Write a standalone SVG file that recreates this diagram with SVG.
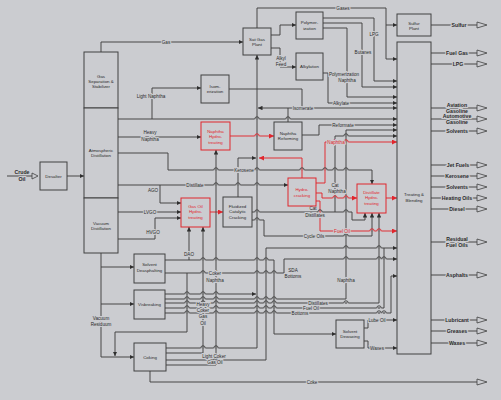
<svg xmlns="http://www.w3.org/2000/svg" width="501" height="400" viewBox="0 0 501 400">
<style>
.bg{fill:#cbccd0}
.box{fill:#cbccd0;stroke:#404040;stroke-width:1}
.rbox{fill:#cbccd0;stroke:#e0262d;stroke-width:1}
.ln{fill:none;stroke:#404040;stroke-width:0.95}
.rd{fill:none;stroke:#e0262d;stroke-width:0.95}
.open{fill:#cbccd0;stroke:#404040;stroke-width:0.8}
text{font-family:"Liberation Sans",Arial,sans-serif;text-anchor:middle}
.bt{font-size:4.4px;fill:#2a2a2a}
.rt{font-size:4.4px;fill:#e0262d}
.cl{font-size:4.6px;fill:#2a2a2a;stroke:#cbccd0;stroke-width:2;paint-order:stroke}
.cr{font-size:4.6px;fill:#e0262d;stroke:#cbccd0;stroke-width:2;paint-order:stroke}
.pl{font-size:5.2px;font-weight:bold;fill:#2a2a2a;stroke:#cbccd0;stroke-width:2.2;paint-order:stroke}
</style>
<defs>
<marker id="a" viewBox="0 0 6 6" refX="6" refY="3" markerWidth="4.5" markerHeight="4.5" orient="auto" markerUnits="userSpaceOnUse"><path d="M0,0L6,3L0,6z" fill="#2e2e2e"/></marker>
<marker id="ar" viewBox="0 0 6 6" refX="6" refY="3" markerWidth="5" markerHeight="5" orient="auto" markerUnits="userSpaceOnUse"><path d="M0,0L6,3L0,6z" fill="#e0262d"/></marker>
<g id="hop"><rect x="-2.4" y="-0.8" width="4.8" height="1.6" fill="#cbccd0"/><path d="M0,-1V1" stroke="#404040" stroke-width="0.95"/><path d="M-2.2,0A2.2,2.2 0 0 1 2.2,0" fill="none" stroke="#404040" stroke-width="0.95"/></g>
<g id="hopbr"><rect x="-2.4" y="-0.8" width="4.8" height="1.6" fill="#cbccd0"/><path d="M0,-1V1" stroke="#e0262d" stroke-width="0.95"/><path d="M-2.2,0A2.2,2.2 0 0 1 2.2,0" fill="none" stroke="#404040" stroke-width="0.95"/></g>
<g id="hoprb"><rect x="-2.4" y="-0.8" width="4.8" height="1.6" fill="#cbccd0"/><path d="M0,-1V1" stroke="#404040" stroke-width="0.95"/><path d="M-2.2,0A2.2,2.2 0 0 1 2.2,0" fill="none" stroke="#e0262d" stroke-width="0.95"/></g>
</defs>
<rect class="bg" x="0" y="0" width="501" height="400"/>

<g id="connectors">
<path class="ln" d="M7,176H32"/>
<polygon class="open" points="32,173 38,176 32,179"/>
<path class="ln" marker-end="url(#a)" d="M67,176H84"/>
<path class="ln" marker-end="url(#a)" d="M101,52V42H243"/>
<path class="ln" marker-end="url(#a)" d="M257,28V8H386V59H397"/>
<path class="ln" marker-end="url(#a)" d="M386,25H397"/>
<path class="ln" marker-end="url(#a)" d="M271,35H280V25H296"/>
<path class="ln" marker-end="url(#a)" d="M271,48H280V67H296"/>
<path class="ln" marker-end="url(#a)" d="M323,18H374V81H397"/>
<path class="ln" marker-end="url(#a)" d="M323,23H362V87H397"/>
<path class="ln" marker-end="url(#a)" d="M323,28H347V97H397"/>
<path class="ln" marker-end="url(#a)" d="M323,73H328V103H397"/>
<path class="ln" marker-end="url(#a)" d="M152,119V88H201"/>
<path class="ln" marker-end="url(#a)" d="M118,119H397"/>
<path class="ln" d="M229,89H302V108"/>
<path class="ln" marker-end="url(#a)" d="M302,108H258"/>
<path class="ln" marker-end="url(#a)" d="M302,108H397"/>
<path class="ln" d="M288,122V108"/>
<path class="ln" marker-end="url(#a)" d="M118,137H201"/>
<path class="rd" marker-end="url(#ar)" d="M230,136H274"/>
<path class="ln" marker-end="url(#a)" d="M302,135H319V125H397"/>
<path class="ln" marker-end="url(#a)" d="M166,348H257V55"/>
<path class="ln" marker-end="url(#a)" d="M165,294H256"/>
<path class="ln" marker-end="url(#a)" d="M238,197V158H256"/>
<path class="rd" marker-end="url(#ar)" d="M302,178V158H259"/>
<path class="ln" marker-end="url(#a)" d="M118,153H168V170H372V184"/>
<path class="ln" marker-end="url(#a)" d="M118,185H288"/>
<path class="ln" marker-end="url(#a)" d="M160,185V203H181"/>
<path class="ln" marker-end="url(#a)" d="M118,212H181"/>
<path class="ln" marker-end="url(#a)" d="M118,239H155V218H181"/>
<path class="rd" marker-end="url(#ar)" d="M210,212H223"/>
<path class="ln" marker-end="url(#a)" d="M252,212H352V220H365V213"/>
<path class="ln" marker-end="url(#a)" d="M335,212V136H397"/>
<path class="ln" marker-end="url(#a)" d="M252,220H264V236H372V213"/>
<path class="ln" marker-end="url(#a)" d="M165,299H346V130H397"/>
<path class="rd" marker-end="url(#ar)" d="M316,183H325V142H397"/>
<path class="rd" marker-end="url(#ar)" d="M316,193H322V198H357"/>
<path class="rd" marker-end="url(#ar)" d="M316,201H320V231H397"/>
<path class="rd" marker-end="url(#ar)" d="M386,198H397"/>
<path class="ln" marker-end="url(#a)" d="M165,260H274V334H336"/>
<path class="ln" marker-end="url(#a)" d="M189,260V227"/>
<path class="ln" marker-end="url(#a)" d="M165,273H284V259H397"/>
<path class="ln" marker-end="url(#a)" d="M187,273V332H115V356"/>
<path class="ln" marker-end="url(#a)" d="M101,253V357H134"/>
<path class="ln" marker-end="url(#a)" d="M101,267H134"/>
<path class="ln" marker-end="url(#a)" d="M101,304H134"/>
<path class="ln" marker-end="url(#a)" d="M166,353H203V227"/>
<path class="ln" marker-end="url(#a)" d="M166,365H216V150"/>
<path class="ln" marker-end="url(#a)" d="M166,360H266V248H397"/>
<path class="ln" marker-end="url(#a)" d="M165,303H379V213"/>
<path class="ln" d="M165,308H384V248"/>
<path class="ln" marker-end="url(#a)" d="M165,313H391V276H397"/>
<path class="ln" marker-end="url(#a)" d="M364,328H368V320H397"/>
<path class="ln" marker-end="url(#a)" d="M364,341H368V348H397"/>
<path class="ln" d="M150,371V382H477"/>
<polygon class="open" points="477,379 487,382 477,385"/>
<path class="ln" d="M431,25H477M431,53H477M431,64H477M431,108H477M431,119H477M431,131H477M431,165H477M431,176H477M431,187H477M431,198H477M431,209H477M431,242H477M431,275H477M431,320H477M431,331H477M431,343H477"/>
<g>
<polygon class="open" points="477,22 487,25 477,28"/>
<polygon class="open" points="477,50 487,53 477,56"/>
<polygon class="open" points="477,61 487,64 477,67"/>
<polygon class="open" points="477,105 487,108 477,111"/>
<polygon class="open" points="477,116 487,119 477,122"/>
<polygon class="open" points="477,128 487,131 477,134"/>
<polygon class="open" points="477,162 487,165 477,168"/>
<polygon class="open" points="477,173 487,176 477,179"/>
<polygon class="open" points="477,184 487,187 477,190"/>
<polygon class="open" points="477,195 487,198 477,201"/>
<polygon class="open" points="477,206 487,209 477,212"/>
<polygon class="open" points="477,239 487,242 477,245"/>
<polygon class="open" points="477,272 487,275 477,278"/>
<polygon class="open" points="477,317 487,320 477,323"/>
<polygon class="open" points="477,328 487,331 477,334"/>
<polygon class="open" points="477,340 487,343 477,346"/>
</g>
<g id="hops">
<use href="#hop" x="257" y="119"/><use href="#hop" x="288" y="119"/>
<use href="#hop" x="216" y="170"/><use href="#hop" x="257" y="170"/><use href="#hopbr" x="302" y="170"/><use href="#hopbr" x="325" y="170"/><use href="#hop" x="335" y="170"/><use href="#hop" x="346" y="170"/>
<use href="#hop" x="216" y="185"/><use href="#hop" x="238" y="185"/><use href="#hop" x="257" y="185"/>
<use href="#hop" x="257" y="212"/><use href="#hopbr" x="320" y="212"/><use href="#hop" x="346" y="212"/>
<use href="#hop" x="257" y="220"/><use href="#hop" x="346" y="236"/>
<use href="#hop" x="203" y="260"/><use href="#hop" x="216" y="260"/><use href="#hop" x="257" y="260"/><use href="#hop" x="266" y="260"/>
<use href="#hop" x="203" y="273"/><use href="#hop" x="216" y="273"/><use href="#hop" x="257" y="273"/><use href="#hop" x="266" y="273"/><use href="#hop" x="274" y="273"/>
<use href="#hop" x="346" y="259"/><use href="#hop" x="379" y="259"/><use href="#hop" x="384" y="259"/>
<use href="#hop" x="187" y="294"/><use href="#hop" x="203" y="294"/><use href="#hop" x="216" y="294"/>
<use href="#hop" x="187" y="299"/><use href="#hop" x="203" y="299"/><use href="#hop" x="216" y="299"/><use href="#hop" x="257" y="299"/><use href="#hop" x="266" y="299"/><use href="#hop" x="274" y="299"/>
<use href="#hop" x="187" y="303"/><use href="#hop" x="203" y="303"/><use href="#hop" x="216" y="303"/><use href="#hop" x="257" y="303"/><use href="#hop" x="266" y="303"/><use href="#hop" x="274" y="303"/><use href="#hop" x="346" y="303"/>
<use href="#hop" x="187" y="308"/><use href="#hop" x="203" y="308"/><use href="#hop" x="216" y="308"/><use href="#hop" x="257" y="308"/><use href="#hop" x="266" y="308"/><use href="#hop" x="274" y="308"/><use href="#hop" x="379" y="308"/>
<use href="#hop" x="187" y="313"/><use href="#hop" x="203" y="313"/><use href="#hop" x="216" y="313"/><use href="#hop" x="257" y="313"/><use href="#hop" x="266" y="313"/><use href="#hop" x="274" y="313"/><use href="#hop" x="379" y="313"/><use href="#hop" x="384" y="313"/>
<use href="#hop" x="203" y="348"/><use href="#hop" x="216" y="348"/><use href="#hop" x="216" y="360"/>
<use href="#hop" x="346" y="248"/><use href="#hop" x="379" y="248"/>
<use href="#hoprb" x="346" y="231"/><use href="#hoprb" x="372" y="231"/><use href="#hoprb" x="379" y="231"/>
<use href="#hoprb" x="335" y="198"/><use href="#hoprb" x="346" y="198"/>
<use href="#hoprb" x="335" y="142"/><use href="#hoprb" x="346" y="142"/><use href="#hoprb" x="257" y="136"/>
<use href="#hop" x="346" y="136"/>
</g>
<text class="cl" x="166" y="43.5">Gas</text>
<text class="cl" x="343" y="9.5">Gases</text>
<text class="cl" x="281" y="60">Alkyl</text>
<text class="cl" x="281" y="66">Feed</text>
<text class="cl" x="374" y="36">LPG</text>
<text class="cl" x="363" y="54">Butanes</text>
<text class="cl" x="344" y="76">Polymerization</text>
<text class="cl" x="347" y="82">Naphtha</text>
<text class="cl" x="341" y="104.5">Alkylate</text>
<text class="cl" x="151" y="98">Light Naphtha</text>
<text class="cl" x="303" y="109.5">Isomerate</text>
<text class="cl" x="150" y="134">Heavy</text>
<text class="cl" x="150" y="140.5">Naphtha</text>
<text class="cl" x="343" y="126.5">Reformate</text>
<text class="cl" x="244" y="171.5">Kerosene</text>
<text class="cl" x="195" y="186.5">Distillate</text>
<text class="cl" x="153" y="192">AGO</text>
<text class="cl" x="150" y="213.5">LVGO</text>
<text class="cl" x="153" y="234">HVGO</text>
<text class="cl" x="335" y="187">Cat</text>
<text class="cl" x="337" y="193">Naphtha</text>
<text class="cl" x="313" y="209.5">Cat</text>
<text class="cl" x="315" y="216.5">Distillates</text>
<text class="cr" x="336" y="143.5">Naphtha</text>
<text class="cr" x="342" y="232.5">Fuel Oil</text>
<text class="cl" x="314" y="237.5">Cycle Oils</text>
<text class="cl" x="189" y="255.5">DAO</text>
<text class="cl" x="293" y="271.5">SDA</text>
<text class="cl" x="293" y="277.5">Bottoms</text>
<text class="cl" x="215" y="275">Coker</text>
<text class="cl" x="215" y="281.5">Naphtha</text>
<text class="cl" x="203" y="305.5">Heavy</text>
<text class="cl" x="203" y="311.5">Coker</text>
<text class="cl" x="203" y="318">Gas</text>
<text class="cl" x="203" y="324.5">Oil</text>
<text class="cl" x="214" y="357.5">Light Coker</text>
<text class="cl" x="215" y="364">Gas Oil</text>
<text class="cl" x="318" y="304.5">Distillates</text>
<text class="cl" x="311" y="309.5">Fuel Oil</text>
<text class="cl" x="300" y="314.5">Bottoms</text>
<text class="cl" x="346" y="281.5">Naphtha</text>
<text class="cl" x="101" y="319.5">Vacuum</text>
<text class="cl" x="101" y="325.5">Residuum</text>
<text class="cl" x="377" y="322">Lube Oil</text>
<text class="cl" x="377" y="350">Waxes</text>
<text class="cl" x="312" y="383.5">Coke</text>
</g>

<g id="products">
<text class="pl" x="22" y="174">Crude</text>
<text class="pl" x="22" y="180.5">Oil</text>
<text class="pl" x="459" y="27">Sulfur</text>
<text class="pl" x="457" y="55">Fuel Gas</text>
<text class="pl" x="458" y="66">LPG</text>
<text class="pl" x="457" y="107">Aviation</text>
<text class="pl" x="457" y="113">Gasoline</text>
<text class="pl" x="457" y="118">Automotive</text>
<text class="pl" x="457" y="124">Gasoline</text>
<text class="pl" x="457" y="133">Solvents</text>
<text class="pl" x="458" y="167">Jet Fuels</text>
<text class="pl" x="457" y="178">Kerosene</text>
<text class="pl" x="457" y="189">Solvents</text>
<text class="pl" x="457" y="200">Heating Oils</text>
<text class="pl" x="457" y="211">Diesel</text>
<text class="pl" x="457" y="241">Residual</text>
<text class="pl" x="457" y="247">Fuel Oils</text>
<text class="pl" x="457" y="277">Asphalts</text>
<text class="pl" x="457" y="322">Lubricant</text>
<text class="pl" x="457" y="333">Greases</text>
<text class="pl" x="457" y="345">Waxes</text>
</g>

<g id="desalter"><rect class="box" x="40" y="162" width="27" height="28"/><text class="bt" x="53.5" y="177.6">Desalter</text></g>
<g id="gas-separation"><rect class="box" x="84" y="52" width="34" height="56"/><text class="bt" x="101" y="77.5">Gas</text><text class="bt" x="101" y="82.5">Separation &amp;</text><text class="bt" x="101" y="87.5">Stabilizer</text></g>
<g id="atmospheric-distillation"><rect class="box" x="84" y="108" width="34" height="90"/><text class="bt" x="101" y="151.5">Atmospheric</text><text class="bt" x="101" y="157">Distillation</text></g>
<g id="vacuum-distillation"><rect class="box" x="84" y="198" width="34" height="55"/><text class="bt" x="101" y="224.5">Vacuum</text><text class="bt" x="101" y="230">Distillation</text></g>
<g id="sat-gas-plant"><rect class="box" x="243" y="28" width="28" height="27"/><text class="bt" x="257" y="40.5">Sat Gas</text><text class="bt" x="257" y="46">Plant</text></g>
<g id="polymerization"><rect class="box" x="296" y="12" width="27" height="27"/><text class="bt" x="309.5" y="24">Polymer-</text><text class="bt" x="309.5" y="29.5">ization</text></g>
<g id="alkylation"><rect class="box" x="296" y="53" width="27" height="27"/><text class="bt" x="309.5" y="68.2">Alkylation</text></g>
<g id="isomerization"><rect class="box" x="201" y="75" width="28" height="28"/><text class="bt" x="215" y="87.5">Isom-</text><text class="bt" x="215" y="93">erization</text></g>
<g id="sulfur-plant"><rect class="box" x="397" y="14" width="34" height="22"/><text class="bt" x="414" y="24.5">Sulfur</text><text class="bt" x="414" y="29.5">Plant</text></g>
<g id="treating-blending"><rect class="box" x="397" y="42" width="34" height="312"/><text class="bt" x="414" y="196">Treating &amp;</text><text class="bt" x="414" y="201.5">Blending</text></g>
<g id="naphtha-hydrotreating"><rect class="rbox" x="201" y="122" width="29" height="28"/><text class="rt" x="215.5" y="132.5">Naphtha</text><text class="rt" x="215.5" y="138">Hydro-</text><text class="rt" x="215.5" y="143.5">treating</text></g>
<g id="naphtha-reforming"><rect class="box" x="274" y="122" width="28" height="28"/><text class="bt" x="288" y="134.5">Naphtha</text><text class="bt" x="288" y="140">Reforming</text></g>
<g id="hydrocracking"><rect class="rbox" x="288" y="178" width="28" height="28"/><text class="rt" x="302" y="191">Hydro-</text><text class="rt" x="302" y="196.5">cracking</text></g>
<g id="distillate-hydrotreating"><rect class="rbox" x="357" y="184" width="29" height="29"/><text class="rt" x="371.5" y="193.5">Distillate</text><text class="rt" x="371.5" y="199">Hydro-</text><text class="rt" x="371.5" y="204.5">treating</text></g>
<g id="gas-oil-hydrotreating"><rect class="rbox" x="181" y="198" width="29" height="29"/><text class="rt" x="195.5" y="207.5">Gas Oil</text><text class="rt" x="195.5" y="213">Hydro-</text><text class="rt" x="195.5" y="218.5">treating</text></g>
<g id="fcc"><rect class="box" x="223" y="197" width="29" height="30"/><text class="bt" x="237.5" y="207.5">Fluidized</text><text class="bt" x="237.5" y="213">Catalytic</text><text class="bt" x="237.5" y="218.5">Cracking</text></g>
<g id="solvent-deasphalting"><rect class="box" x="134" y="254" width="31" height="29"/><text class="bt" x="149.5" y="266">Solvent</text><text class="bt" x="149.5" y="271.5">Deasphalting</text></g>
<g id="visbreaking"><rect class="box" x="134" y="290" width="31" height="29"/><text class="bt" x="149.5" y="306">Visbreaking</text></g>
<g id="coking"><rect class="box" x="134" y="343" width="32" height="28"/><text class="bt" x="150" y="358.6">Coking</text></g>
<g id="solvent-dewaxing"><rect class="box" x="336" y="320" width="28" height="28"/><text class="bt" x="350" y="332.5">Solvent</text><text class="bt" x="350" y="338">Dewaxing</text></g>
</svg>
